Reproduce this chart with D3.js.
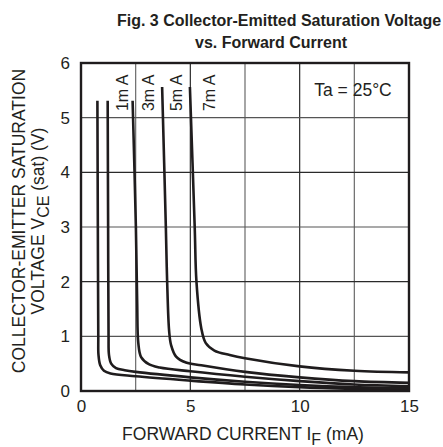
<!DOCTYPE html>
<html><head><meta charset="utf-8">
<script src="https://cdn.jsdelivr.net/npm/d3@7/dist/d3.min.js"></script>
<style>body{margin:0;background:#fff}svg{display:block}text{font-family:"Liberation Sans",Arial,sans-serif;fill:#231f20}</style>
</head><body><svg id="c" width="443" height="447"></svg>
<script>
const xTicks = [0, 5, 10, 15];
const yTicks = [0, 1, 2, 3, 4, 5, 6];
const xGrid = [2.5, 5, 7.5, 10, 12.5];
const yGrid = [1, 2, 3, 4, 5];
const curveLabels = ["1m A", "3m A", "5m A", "7m A"];
const labelX = [1.9, 3.07, 4.37, 5.87];
// each curve: [forward current mA, Vce(sat) V]
const curve1 = [[0.75,5.31],[0.77,3],[0.79,1],[0.8,0.66],[0.88,0.47],[1.05,0.37],[1.35,0.32],[2.5,0.27],[5,0.19],[7.5,0.12],[10,0.07],[12.5,0.04],[15,0.02]];
const curve2 = [[1.22,5.31],[1.24,3],[1.26,1],[1.28,0.66],[1.38,0.5],[1.6,0.42],[2,0.38],[2.5,0.35],[5,0.25],[7.5,0.17],[10,0.11],[12.5,0.07],[15,0.05]];
const curve3 = [[2.36,5.31],[2.51,3],[2.57,1.6],[2.62,0.88],[2.75,0.62],[3.1,0.49],[3.6,0.43],[5,0.36],[7.5,0.26],[10,0.18],[12.5,0.12],[15,0.09]];
const curve4 = [[3.71,5.56],[3.88,3],[3.94,2],[4.03,1.1],[4.12,0.84],[4.35,0.63],[4.8,0.52],[5.5,0.47],[7.5,0.35],[10,0.25],[12.5,0.18],[15,0.15]];
const curve5 = [[4.98,5.56],[5.2,3],[5.28,2],[5.5,1.15],[5.7,0.88],[6.1,0.74],[6.8,0.66],[7.5,0.6],[10,0.45],[12.5,0.37],[15,0.34]];
const curves = [curve1, curve2, curve3, curve4, curve5];

const svg = d3.select("#c");
const m = {l:81, r:409, t:63, b:391};
const x = d3.scaleLinear().domain([0,15]).range([m.l, m.r]);
const y = d3.scaleLinear().domain([0,6]).range([m.b, m.t]);

// grid
svg.append("g").selectAll("line").data(xGrid).join("line")
  .attr("x1", d=>x(d)).attr("x2", d=>x(d)).attr("y1", y(0)).attr("y2", y(6))
  .attr("stroke", (d,i)=> d%5===0 ? "#2a2a2a" : "#6a6a6a").attr("stroke-width", 1.2);
svg.append("g").selectAll("line").data(yGrid).join("line")
  .attr("x1", x(0)).attr("x2", x(15)).attr("y1", d=>y(d)).attr("y2", d=>y(d))
  .attr("stroke", (d)=> d%2===0 ? "#2a2a2a" : "#555").attr("stroke-width", 1.2);

// axes (labels only)
const xa = svg.append("g").attr("transform", `translate(0,${m.b})`)
  .call(d3.axisBottom(x).tickValues(xTicks).tickSize(0).tickPadding(9).tickFormat(d3.format("d")));
xa.select(".domain").remove();
xa.selectAll("text").style("font-size","17px").style("fill","#231f20");
const ya = svg.append("g").attr("transform", `translate(${m.l},0)`)
  .call(d3.axisLeft(y).tickValues(yTicks).tickSize(0).tickPadding(11).tickFormat(d3.format("d")));
ya.select(".domain").remove();
ya.selectAll("text").style("font-size","17px").style("fill","#231f20");

// curves
const line = d3.line().x(d=>x(d[0])).y(d=>y(d[1])).curve(d3.curveCatmullRom.alpha(0.5));
svg.append("g").selectAll("path").data(curves).join("path")
  .attr("d", line).attr("fill","none").attr("stroke","#1f1c1d").attr("stroke-width",2.6);

// frame
svg.append("rect").attr("x", m.l).attr("y", m.t).attr("width", m.r-m.l).attr("height", m.b-m.t)
  .attr("fill","none").attr("stroke","#1f1c1d").attr("stroke-width",2.4);

// curve labels
svg.append("g").selectAll("text").data(curveLabels).join("text")
  .attr("transform", (d,i)=>`translate(${x(labelX[i])},${y(5.12)}) rotate(-90)`)
  .attr("dy","0.35em").style("font-size","16px").text(d=>d);

// Ta
svg.append("text").attr("x", 353).attr("y", y(5.5)).attr("dy","0.35em")
  .attr("text-anchor","middle").style("font-size","17.5px").text("Ta = 25°C");

// title
const t = svg.append("text").attr("text-anchor","middle").style("font-size","16px").style("font-weight","bold");
t.append("tspan").attr("x", 279).attr("y", 26).text("Fig. 3 Collector-Emitted Saturation Voltage");
t.append("tspan").attr("x", 271).attr("y", 48).text("vs. Forward Current");

// x label
const xl = svg.append("text").attr("x", 243).attr("y", 440).attr("text-anchor","middle").style("font-size","17.5px");
xl.append("tspan").text("FORWARD CURRENT I");
xl.append("tspan").attr("dy", 5).style("font-size","16px").text("F");
xl.append("tspan").attr("dy", -5).text(" (mA)");

// y label
const yl = svg.append("text").attr("transform","translate(25,221) rotate(-90)").attr("text-anchor","middle").style("font-size","17.5px");
yl.append("tspan").attr("x",0).attr("y",0).text("COLLECTOR-EMITTER SATURATION");
const yl2 = svg.append("text").attr("transform","translate(44,221) rotate(-90)").attr("text-anchor","middle").style("font-size","17.5px");
yl2.append("tspan").text("VOLTAGE V");
yl2.append("tspan").attr("dy",5).style("font-size","16px").text("CE");
yl2.append("tspan").attr("dy",-5).text(" (sat) (V)");
</script></body></html>
